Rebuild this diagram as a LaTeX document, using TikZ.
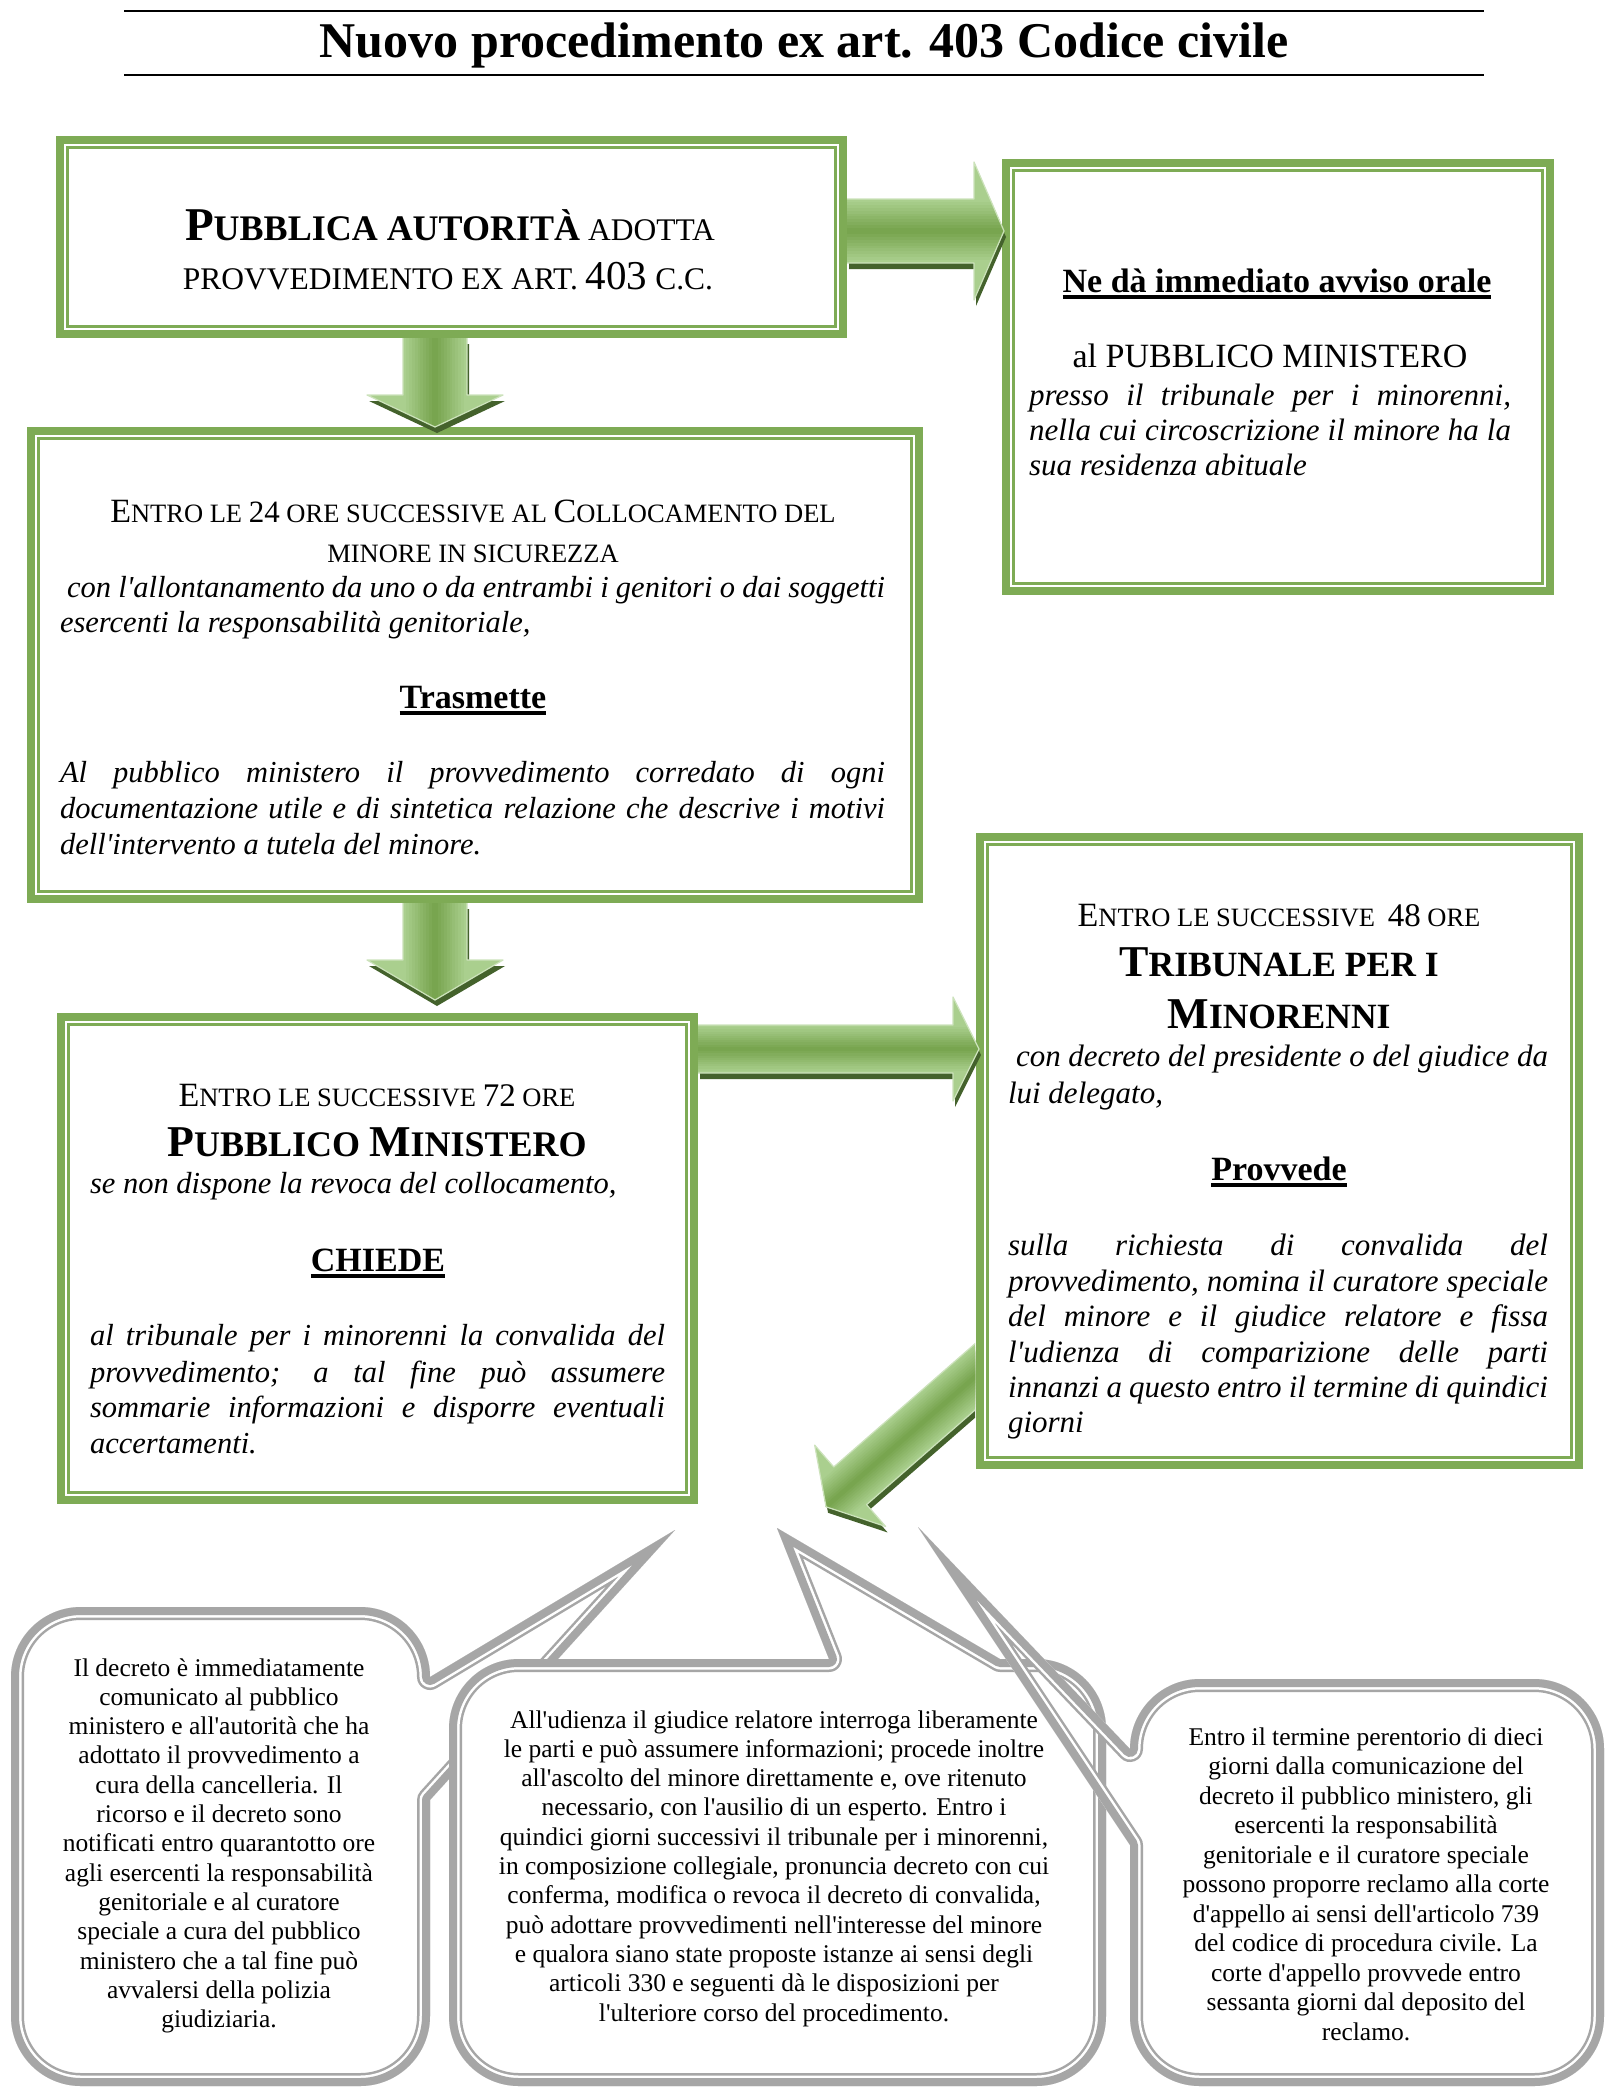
\documentclass[tikz,border=0pt]{standalone}
\usepackage{fontspec}
\setmainfont{Liberation Serif}[Ligatures=TeXOff]
\usetikzlibrary{calc}
\definecolor{gcol}{HTML}{7EAB55}
\definecolor{cgray}{HTML}{A6A6A6}
\definecolor{alight}{HTML}{AACF8E}
\definecolor{adark}{HTML}{78A54F}
\definecolor{ashadow}{HTML}{44622C}
\newcommand\fz[1]{\fontsize{#1pt}{#1pt}\selectfont}
\newcommand\ulx[1]{\setbox0=\hbox{#1}\rlap{\rule[-6.5pt]{\wd0}{3.5pt}}\box0}
\newcommand\blockarrow[7]{%
 \begin{scope}[shift={($(#1)+(2,6)$)}, rotate=#2]
   \fill[ashadow] (#3,-#5) -- (#4,-#5) -- (#4,-#6) -- ({#4+#7},0) -- (#4,#6) -- (#4,#5) -- (#3,#5) -- cycle;
 \end{scope}
 \begin{scope}[shift={(#1)}, rotate=#2]
   \begin{scope}
   \clip (#3,-#5) -- (#4,-#5) -- (#4,-#6) -- ({#4+#7},0) -- (#4,#6) -- (#4,#5) -- (#3,#5) -- cycle;
   \fill[alight] ({#3-5},{-#6-5}) rectangle ({#4+#7+5},{#6+5});
   \foreach \i [evaluate=\i as \p using int(\i*10)] in {1,...,10}
     \fill[adark!\p!alight] ({#3-5},{-#5*(1-\i/11)}) rectangle ({#4+#7+5},{#5*(1-\i/11)});
   \end{scope}
   \draw[alight!60!white, line width=1.2pt, line join=round] (#3,-#5) -- (#4,-#5) -- (#4,-#6) -- ({#4+#7},0) -- (#4,#6) -- (#4,#5) -- (#3,#5);
 \end{scope}}
\newcommand\cpathL{(11,1677) .. controls (11,1638.3) and (42.3,1607) .. (81,1607) -- (360,1607) .. controls (398.7,1607) and (430,1638.3) .. (430,1677) -- (675,1530) -- (430,1800) -- (430,2016) .. controls (430,2054.7) and (398.7,2086) .. (360,2086) -- (81,2086) .. controls (42.3,2086) and (11,2054.7) .. (11,2016) -- cycle}
\newcommand\cpathM{(449,1729) .. controls (449,1690.3) and (480.3,1659) .. (519,1659) -- (829,1659) -- (777,1528) -- (1000,1659) -- (1036,1659) .. controls (1074.7,1659) and (1106,1690.3) .. (1106,1729) -- (1106,2016) .. controls (1106,2054.7) and (1074.7,2086) .. (1036,2086) -- (519,2086) .. controls (480.3,2086) and (449,2054.7) .. (449,2016) -- cycle}
\newcommand\cpathR{(1200,1679) -- (1534,1679) .. controls (1572.7,1679) and (1604,1710.3) .. (1604,1749) -- (1604,2016) .. controls (1604,2054.7) and (1572.7,2086) .. (1534,2086) -- (1200,2086) .. controls (1161.3,2086) and (1130,2054.7) .. (1130,2016) -- (1130,1845) -- (918,1527) -- (1130,1749) .. controls (1130,1710.3) and (1161.3,1679) .. (1200,1679) -- cycle}
\newcommand\cpathRbody{(1200,1679) -- (1534,1679) .. controls (1572.7,1679) and (1604,1710.3) .. (1604,1749) -- (1604,2016) .. controls (1604,2054.7) and (1572.7,2086) .. (1534,2086) -- (1200,2086) .. controls (1161.3,2086) and (1130,2054.7) .. (1130,2016) -- (1130,1749) .. controls (1130,1710.3) and (1161.3,1679) .. (1200,1679) -- cycle}
\tikzset{
  txc/.style={inner sep=0pt, outer sep=0pt, anchor=base},
  txl/.style={inner sep=0pt, outer sep=0pt, anchor=base west},
  ctext/.style={inner sep=0pt, outer sep=0pt, anchor=north, align=center, font=\fontsize{25.5pt}{29.3pt}\selectfont},
  gbox/.style={rectangle, inner sep=0pt, outer sep=0pt, anchor=north west,
    path picture={
      \fill[gcol] (path picture bounding box.south west) rectangle (path picture bounding box.north east);
      \fill[white] ([shift={(8pt,8pt)}]path picture bounding box.south west) rectangle ([shift={(-8pt,-8pt)}]path picture bounding box.north east);
      \fill[gcol] ([shift={(10pt,10pt)}]path picture bounding box.south west) rectangle ([shift={(-10pt,-10pt)}]path picture bounding box.north east);
      \fill[white] ([shift={(13pt,13pt)}]path picture bounding box.south west) rectangle ([shift={(-13pt,-13pt)}]path picture bounding box.north east);
    }}
}
\begin{document}
\begin{tikzpicture}[x=1pt,y=-1pt]
\useasboundingbox (0,0) rectangle (1616,2090);
\fill[white] (0,0) rectangle (1616,2090);

% title
\node[txc] (title) at (804,58) {\bfseries\fz{50}Nuovo procedimento ex art. 403 Codice civile};
\draw[line width=2.2pt] (124,11) -- (1484,11);
\draw[line width=2.2pt] (124,75) -- (1484,75);

% green boxes
\node[gbox, minimum width=791pt, minimum height=202pt] (b1) at (56,136) {};
\node[gbox, minimum width=552pt, minimum height=436pt] (b2) at (1002,159) {};
\node[gbox, minimum width=896pt, minimum height=476pt] (b3) at (27,427) {};
\node[gbox, minimum width=641pt, minimum height=491pt] (b4) at (57,1013) {};
\node[gbox, minimum width=607pt, minimum height=636pt] (b5) at (976,833) {};

% block arrows
\coordinate (a1s) at (847,231);
\coordinate (a2s) at (435,338);
\coordinate (a3s) at (435,903);
\coordinate (a4s) at (698,1049);
\coordinate (a5s) at (976,1376);
\blockarrow{a1s}{0}{0}{127}{32}{69}{30}
\blockarrow{a2s}{-90}{0}{57}{32}{68}{32}
\blockarrow{a3s}{-90}{0}{57}{32}{68}{40}
\blockarrow{a4s}{0}{0}{255}{24}{52}{26}
\begin{scope}
  \clip (0,0) rectangle (975,2090);
  \blockarrow{a5s}{221.1}{-30}{167}{25}{54}{32}
\end{scope}

% callouts
\fill[white] \cpathL;
\begin{scope}
  \clip \cpathL;
  \draw[cgray, line width=26pt, line join=round] \cpathL;
  \draw[white, line width=21pt, line join=round] \cpathL;
  \draw[cgray, line width=16pt, line join=round] \cpathL;
\end{scope}
\fill[white] \cpathM;
\begin{scope}
  \clip \cpathM;
  \draw[cgray, line width=26pt, line join=round] \cpathM;
  \draw[white, line width=21pt, line join=round] \cpathM;
  \draw[cgray, line width=16pt, line join=round] \cpathM;
\end{scope}
\fill[white] \cpathRbody;
\begin{scope}
  \clip \cpathR;
  \draw[cgray, line width=26pt, line join=round] \cpathR;
  \draw[white, line width=21pt, line join=round] \cpathR;
  \draw[cgray, line width=16pt, line join=round] \cpathR;
\end{scope}

% box 1 text
\node[txc] (b1t1) at (450,240) {\fz{31.5}{\bfseries\fz{47}P\fz{36}UBBLICA AUTORITÀ} ADOTTA};
\node[txc] (b1t2) at (448,289) {\fz{31.5}PROVVEDIMENTO EX ART. {\fz{41}403} C.C.};

% box 2 text
\node[txc] (b2t1) at (1277,292) {\bfseries\fz{34}\ulx{Ne dà immediato avviso orale}};
\node[txc] (b2t2) at (1270,367) {\fz{34}al PUBBLICO MINISTERO};
\node[txl] (b2t3) at (1029,405) {\itshape\fz{31}\makebox[482pt][s]{presso il tribunale per i minorenni,}};
\node[txl] (b2t4) at (1029,440) {\itshape\fz{31}\makebox[482pt][s]{nella cui circoscrizione il minore ha la}};
\node[txl] (b2t5) at (1029,475) {\itshape\fz{31}sua residenza abituale};

% box 3 text
\node[txc] (b3t1) at (473,522) {\fz{26.5}{\fz{34}E}NTRO LE {\fz{31}24} ORE SUCCESSIVE AL {\fz{34}C}OLLOCAMENTO DEL};
\node[txc] (b3t2) at (473,562) {\fz{26.5}MINORE IN SICUREZZA};
\node[txl] (b3t3) at (67,597) {\itshape\fz{30.5}\makebox[818pt][s]{con l'allontanamento da uno o da entrambi i genitori o dai soggetti}};
\node[txl] (b3t4) at (60,632) {\itshape\fz{30.5}esercenti la responsabilità genitoriale,};
\node[txc] (b3t5) at (473,708) {\bfseries\fz{34}\ulx{Trasmette}};
\node[txl] (b3t6) at (60,782) {\itshape\fz{30.5}\makebox[825pt][s]{Al pubblico ministero il provvedimento corredato di ogni}};
\node[txl] (b3t7) at (60,818) {\itshape\fz{30.5}\makebox[825pt][s]{documentazione utile e di sintetica relazione che descrive i motivi}};
\node[txl] (b3t8) at (60,854) {\itshape\fz{30.5}dell'intervento a tutela del minore.};

% box 4 text
\node[txc] (b4t1) at (377,1106) {\fz{26.5}{\fz{34}E}NTRO LE SUCCESSIVE {\fz{33}72} ORE};
\node[txc] (b4t2) at (377,1156) {\bfseries\fz{36}{\fz{44}P}UBBLICO {\fz{44}M}INISTERO};
\node[txl] (b4t3) at (90,1193) {\itshape\fz{30.5}se non dispone la revoca del collocamento,};
\node[txc] (b4t4) at (378,1271) {\bfseries\fz{34}\ulx{CHIEDE}};
\node[txl] (b4t5) at (90,1345) {\itshape\fz{30.5}\makebox[575pt][s]{al tribunale per i minorenni la convalida del}};
\node[txl] (b4t6) at (90,1382) {\itshape\fz{30.5}\makebox[575pt][s]{provvedimento; a tal fine può assumere}};
\node[txl] (b4t7) at (90,1417) {\itshape\fz{30.5}\makebox[575pt][s]{sommarie informazioni e disporre eventuali}};
\node[txl] (b4t8) at (90,1453) {\itshape\fz{30.5}accertamenti.};

% box 5 text
\node[txc] (b5t1) at (1279,926) {\fz{26.5}{\fz{34}E}NTRO LE SUCCESSIVE\hspace{6pt} {\fz{33}48} ORE};
\node[txc] (b5t2) at (1279,976) {\bfseries\fz{35.5}{\fz{44}T}RIBUNALE PER I};
\node[txc] (b5t3) at (1279,1028) {\bfseries\fz{35.5}{\fz{44}M}INORENNI};
\node[txl] (b5t4) at (1016,1066) {\itshape\fz{31}\makebox[532pt][s]{con decreto del presidente o del giudice da}};
\node[txl] (b5t5) at (1008,1103) {\itshape\fz{31}lui delegato,};
\node[txc] (b5t6) at (1279,1180) {\bfseries\fz{34}\ulx{Provvede}};
\node[txl] (b5t7) at (1008,1255) {\itshape\fz{31}\makebox[540pt][s]{sulla richiesta di convalida del}};
\node[txl] (b5t8) at (1008,1291) {\itshape\fz{31}\makebox[540pt][s]{provvedimento, nomina il curatore speciale}};
\node[txl] (b5t9) at (1008,1326) {\itshape\fz{31}\makebox[540pt][s]{del minore e il giudice relatore e fissa}};
\node[txl] (b5t10) at (1008,1362) {\itshape\fz{31}\makebox[540pt][s]{l'udienza di comparizione delle parti}};
\node[txl] (b5t11) at (1008,1397) {\itshape\fz{31}\makebox[540pt][s]{innanzi a questo entro il termine di quindici}};
\node[txl] (b5t12) at (1008,1432) {\itshape\fz{31}giorni};

% callout texts
\node[ctext] (c1) at (219,1656) {\rule{0pt}{20pt}Il decreto è immediatamente\\comunicato al pubblico\\ministero e all'autorità che ha\\adottato il provvedimento a\\cura della cancelleria. Il\\ricorso e il decreto sono\\notificati entro quarantotto ore\\agli esercenti la responsabilità\\genitoriale e al curatore\\speciale a cura del pubblico\\ministero che a tal fine può\\avvalersi della polizia\\giudiziaria.};
\node[ctext] (c2) at (774,1708) {\rule{0pt}{20pt}All'udienza il giudice relatore interroga liberamente\\le parti e può assumere informazioni; procede inoltre\\all'ascolto del minore direttamente e, ove ritenuto\\necessario, con l'ausilio di un esperto. Entro i\\quindici giorni successivi il tribunale per i minorenni,\\in composizione collegiale, pronuncia decreto con cui\\conferma, modifica o revoca il decreto di convalida,\\può adottare provvedimenti nell'interesse del minore\\e qualora siano state proposte istanze ai sensi degli\\articoli 330 e seguenti dà le disposizioni per\\l'ulteriore corso del procedimento.};
\node[ctext, font=\fontsize{25.5pt}{29.5pt}\selectfont] (c3) at (1366,1725) {\rule{0pt}{20pt}Entro il termine perentorio di dieci\\giorni dalla comunicazione del\\decreto il pubblico ministero, gli\\esercenti la responsabilità\\genitoriale e il curatore speciale\\possono proporre reclamo alla corte\\d'appello ai sensi dell'articolo 739\\del codice di procedura civile. La\\corte d'appello provvede entro\\sessanta giorni dal deposito del\\reclamo.};
\end{tikzpicture}
\end{document}
